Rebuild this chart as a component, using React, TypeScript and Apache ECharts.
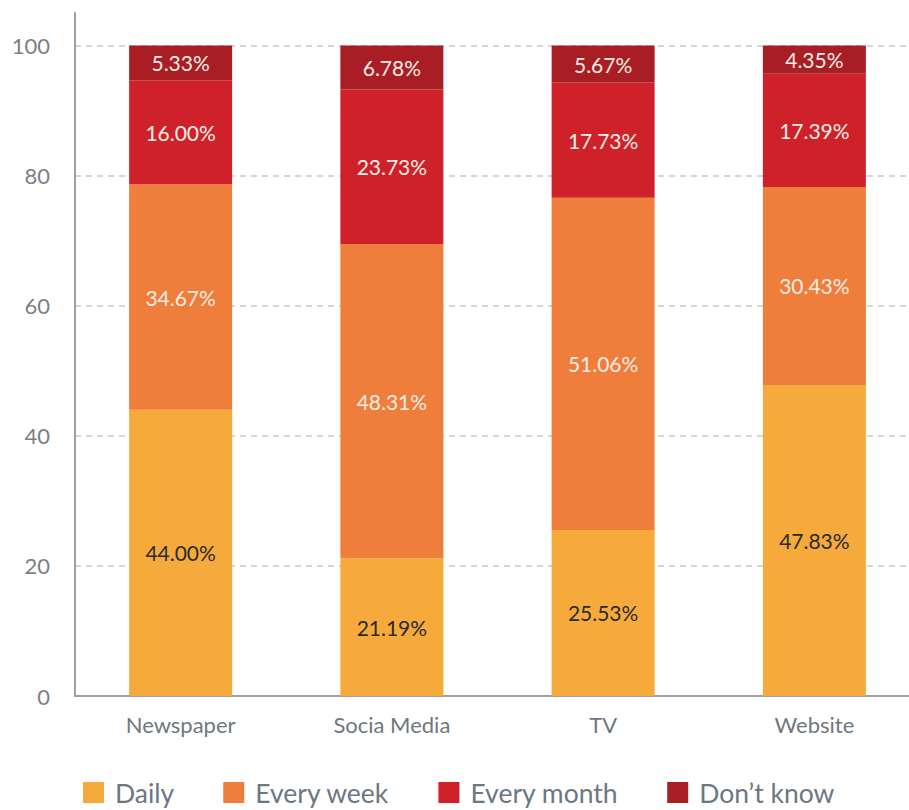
import React, { useEffect, useRef } from "react";
import * as echarts from "echarts";

const categories = ["Newspaper", "Socia Media", "TV", "Website"];
const seriesNames = ["Daily", "Every week", "Every month", "Don\u2019t know"];
const daily = [44.0, 21.19, 25.53, 47.83];
const everyWeek = [34.67, 48.31, 51.06, 30.43];
const everyMonth = [16.0, 23.73, 17.73, 17.39];
const dontKnow = [5.33, 6.78, 5.67, 4.35];
const colors = ["#F6AA3B", "#EF7D3C", "#CF212A", "#A81E24"];
const labelColors = ["#2a2a2a", "#fbeee6", "#fbeee6", "#fbeee6"];

export default function App() {
  const ref = useRef<HTMLDivElement>(null);
  useEffect(() => {
    if (!ref.current) return;
    const chart = echarts.init(ref.current, null, { renderer: "svg" });
    const values = [daily, everyWeek, everyMonth, dontKnow];
    chart.setOption({
      animation: false,
      textStyle: { fontFamily: "Lato" },
      grid: { left: 75, top: 13, bottom: 114, width: 845 },
      legend: {
        left: 83,
        top: 779,
        padding: 0,
        itemWidth: 21,
        itemHeight: 21,
        itemGap: 49,
        icon: "rect",
        textStyle: {
          fontSize: 26.5,
          lineHeight: 22,
          color: "#6b7784",
          fontFamily: "Lato",
          padding: [0, 0, 0, 6],
        },
        data: seriesNames,
      },
      xAxis: {
        type: "category",
        data: categories,
        axisLine: { lineStyle: { color: "#9ba0a6", width: 2 } },
        axisTick: { show: false },
        axisLabel: { fontSize: 22, color: "#6f7780", margin: 17 },
      },
      yAxis: {
        type: "value",
        min: 0,
        max: 105,
        interval: 20,
        axisLine: { show: true, lineStyle: { color: "#9ba0a6", width: 2 } },
        axisTick: { show: false },
        axisLabel: {
          fontSize: 22,
          color: "#7d7f82",
          margin: 25,
          showMaxLabel: false,
          formatter: (v: number) => (v > 100 ? "" : String(v)),
        },
        splitLine: {
          showMaxLine: false,
          lineStyle: { color: "#c9c9c9", type: [6, 5], width: 1.5 },
        },
      },
      series: seriesNames.map((name, i) => ({
        name,
        type: "bar",
        stack: "total",
        barWidth: 103,
        data: values[i],
        itemStyle: { color: colors[i] },
        label: {
          show: true,
          position: "inside",
          color: labelColors[i],
          fontSize: 21,
          fontFamily: "Lato",
          formatter: (p: any) => Number(p.value).toFixed(2) + "%",
        },
      })),
    });
    return () => chart.dispose();
  }, []);
  return (
    <div
      style={{
        position: "fixed",
        left: 0,
        top: 0,
        width: 909,
        height: 810,
        overflow: "hidden",
        background: "#fff",
      }}
    >
      <div ref={ref} style={{ width: 930, height: 810 }} />
    </div>
  );
}
